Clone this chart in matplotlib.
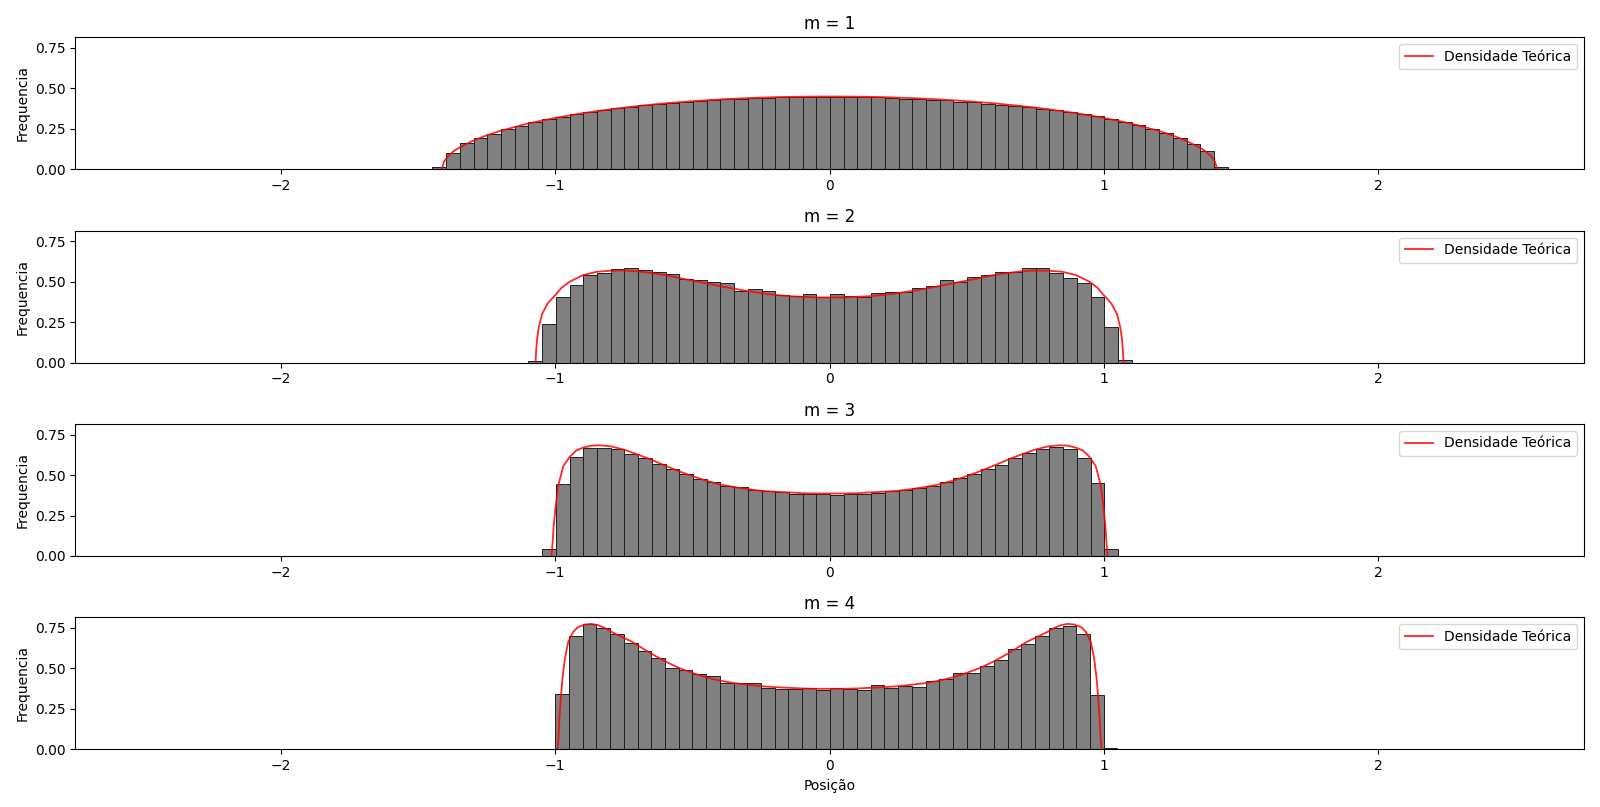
import numpy as np
import matplotlib
matplotlib.use("Agg")
import matplotlib.pyplot as plt

# Valores (histogramas normalizados, largura de classe 0.05)
ms = [1, 2, 3, 4]
largura_classe = 0.05
inicio_classes = [-1.448, -1.098, -1.048, -1.0]

hist_m1 = [0.014, 0.099, 0.161, 0.194, 0.221, 0.247, 0.270, 0.291, 0.309, 0.324,
           0.340, 0.353, 0.365, 0.377, 0.388, 0.396, 0.406, 0.410, 0.416, 0.423,
           0.429, 0.433, 0.437, 0.439, 0.439, 0.445, 0.449, 0.445, 0.445, 0.449,
           0.449, 0.447, 0.445, 0.439, 0.437, 0.433, 0.429, 0.429, 0.419, 0.414,
           0.402, 0.396, 0.394, 0.384, 0.373, 0.369, 0.355, 0.340, 0.328, 0.309,
           0.291, 0.272, 0.252, 0.223, 0.192, 0.155, 0.111, 0.014]
hist_m2 = [0.010, 0.236, 0.407, 0.481, 0.543, 0.556, 0.581, 0.587, 0.574, 0.562,
           0.550, 0.519, 0.512, 0.500, 0.494, 0.444, 0.457, 0.440, 0.419, 0.409,
           0.426, 0.403, 0.426, 0.413, 0.407, 0.432, 0.438, 0.436, 0.463, 0.475,
           0.512, 0.500, 0.531, 0.543, 0.562, 0.562, 0.583, 0.583, 0.556, 0.525,
           0.494, 0.407, 0.221, 0.017]
hist_m3 = [0.043, 0.444, 0.612, 0.667, 0.667, 0.661, 0.632, 0.605, 0.570, 0.537,
           0.508, 0.475, 0.459, 0.432, 0.426, 0.407, 0.399, 0.393, 0.382, 0.382,
           0.380, 0.376, 0.380, 0.382, 0.390, 0.399, 0.407, 0.419, 0.432, 0.457,
           0.481, 0.508, 0.539, 0.562, 0.605, 0.636, 0.661, 0.674, 0.661, 0.605,
           0.450, 0.041]
hist_m4 = [0.341, 0.698, 0.777, 0.750, 0.711, 0.655, 0.605, 0.562, 0.500, 0.488,
           0.465, 0.450, 0.409, 0.407, 0.407, 0.376, 0.370, 0.372, 0.380, 0.366,
           0.378, 0.372, 0.364, 0.395, 0.380, 0.390, 0.386, 0.419, 0.432, 0.469,
           0.469, 0.514, 0.550, 0.618, 0.649, 0.698, 0.750, 0.760, 0.711, 0.333,
           0.006]

x_m1 = [-1.414, -1.405, -1.39, -1.37, -1.35, -1.3, -1.25, -1.2, -1.1, -1.0,
        -0.9, -0.8, -0.7, -0.6, -0.5, -0.4, -0.3, -0.2, -0.1, 0.0,
        0.1, 0.2, 0.3, 0.4, 0.5, 0.6, 0.7, 0.8, 0.9, 1.0,
        1.1, 1.2, 1.25, 1.3, 1.35, 1.37, 1.39, 1.405, 1.414]
y_m1 = [0.0, 0.05, 0.083, 0.113, 0.134, 0.177, 0.21, 0.238, 0.283, 0.318,
        0.347, 0.371, 0.391, 0.408, 0.421, 0.432, 0.440, 0.446, 0.449, 0.450,
        0.449, 0.446, 0.440, 0.432, 0.421, 0.408, 0.391, 0.371, 0.347, 0.318,
        0.283, 0.238, 0.21, 0.177, 0.134, 0.113, 0.083, 0.05, 0.0]

x_m2 = [-1.072, -1.070, -1.066, -1.060, -1.048, -1.026, -1.0, -0.977, -0.948, -0.899,
        -0.848, -0.799, -0.749, -0.698, -0.650, -0.599, -0.548, -0.498, -0.449, -0.399,
        -0.348, -0.298, -0.250, -0.199, -0.149, -0.101, -0.050, 0.0,
        0.050, 0.101, 0.149, 0.199, 0.250, 0.298, 0.348, 0.399, 0.449, 0.498,
        0.548, 0.599, 0.650, 0.698, 0.749, 0.799, 0.848, 0.899, 0.948, 0.977,
        1.0, 1.026, 1.048, 1.060, 1.066, 1.070, 1.072]
y_m2 = [0.0, 0.07, 0.15, 0.22, 0.302, 0.370, 0.417, 0.463, 0.500, 0.541,
        0.562, 0.568, 0.570, 0.564, 0.554, 0.541, 0.523, 0.506, 0.490, 0.473,
        0.457, 0.442, 0.430, 0.419, 0.411, 0.407, 0.403, 0.403,
        0.403, 0.407, 0.411, 0.419, 0.430, 0.442, 0.457, 0.473, 0.490, 0.506,
        0.523, 0.541, 0.554, 0.564, 0.570, 0.568, 0.562, 0.541, 0.500, 0.463,
        0.417, 0.370, 0.302, 0.22, 0.15, 0.07, 0.0]

x_m3 = [-1.014, -1.010, -1.006, -1.000, -0.990, -0.971, -0.948, -0.923, -0.899, -0.868,
        -0.838, -0.799, -0.749, -0.698, -0.650, -0.599, -0.548, -0.498, -0.449, -0.399,
        -0.348, -0.298, -0.250, -0.199, -0.149, -0.101, -0.050, 0.0,
        0.050, 0.101, 0.149, 0.199, 0.250, 0.298, 0.348, 0.399, 0.449, 0.498,
        0.548, 0.599, 0.650, 0.698, 0.749, 0.799, 0.838, 0.868, 0.899, 0.923,
        0.948, 0.971, 0.990, 1.000, 1.006, 1.010, 1.014]
y_m3 = [0.0, 0.079, 0.182, 0.285, 0.430, 0.554, 0.612, 0.653, 0.669, 0.682,
        0.684, 0.678, 0.657, 0.626, 0.595, 0.558, 0.523, 0.492, 0.465, 0.442,
        0.426, 0.413, 0.403, 0.397, 0.393, 0.388, 0.386, 0.386,
        0.386, 0.388, 0.393, 0.397, 0.403, 0.413, 0.426, 0.442, 0.465, 0.492,
        0.523, 0.558, 0.595, 0.626, 0.657, 0.678, 0.684, 0.682, 0.669, 0.653,
        0.612, 0.554, 0.430, 0.285, 0.182, 0.079, 0.0]

x_m4 = [-0.992, -0.988, -0.985, -0.980, -0.974, -0.965, -0.953, -0.935, -0.917, -0.892,
        -0.868, -0.844, -0.820, -0.783, -0.723, -0.650, -0.599, -0.548, -0.498, -0.449,
        -0.399, -0.348, -0.298, -0.250, -0.199, -0.149, -0.101, -0.050, 0.0,
        0.050, 0.101, 0.149, 0.199, 0.250, 0.298, 0.348, 0.399, 0.449, 0.498,
        0.548, 0.599, 0.650, 0.723, 0.783, 0.820, 0.844, 0.868, 0.892, 0.917,
        0.935, 0.953, 0.965, 0.974, 0.980, 0.985, 0.988, 0.992]
y_m4 = [0.0, 0.085, 0.188, 0.312, 0.436, 0.560, 0.663, 0.725, 0.756, 0.771,
        0.775, 0.767, 0.750, 0.715, 0.667, 0.591, 0.543, 0.502, 0.471, 0.444,
        0.424, 0.409, 0.399, 0.390, 0.384, 0.380, 0.376, 0.374, 0.374,
        0.374, 0.376, 0.380, 0.384, 0.390, 0.399, 0.409, 0.424, 0.444, 0.471,
        0.502, 0.543, 0.591, 0.667, 0.715, 0.750, 0.767, 0.775, 0.771, 0.756,
        0.725, 0.663, 0.560, 0.436, 0.312, 0.188, 0.085, 0.0]

histogramas = [hist_m1, hist_m2, hist_m3, hist_m4]
curvas = [(x_m1, y_m1), (x_m2, y_m2), (x_m3, y_m3), (x_m4, y_m4)]

fig, axes = plt.subplots(4, 1, figsize=(16, 8.07), dpi=100)
fig.subplots_adjust(left=0.0471, right=0.9898, top=0.9538, bottom=0.0715, hspace=0.464)

for ax, m, alturas, inicio, (xc, yc) in zip(axes, ms, histogramas, inicio_classes, curvas):
    bordas = inicio + largura_classe * np.arange(len(alturas) + 1)
    ax.bar(bordas[:-1], alturas, width=np.diff(bordas), align="edge",
           color="#808080", edgecolor="#1f1f1f", linewidth=0.7)
    ax.plot(xc, yc, color="red", alpha=0.85, linewidth=1.3, label="Densidade Teórica")
    ax.set_xlim(-2.75, 2.75)
    ax.set_ylim(0, 0.816)
    ax.set_yticks([0.0, 0.25, 0.5, 0.75])
    ax.set_title(f"m = {m}")
    ax.set_ylabel("Frequencia")
    ax.legend(loc="upper right")

axes[-1].set_xlabel("Posição")

fig.savefig("out.png", dpi=100)
